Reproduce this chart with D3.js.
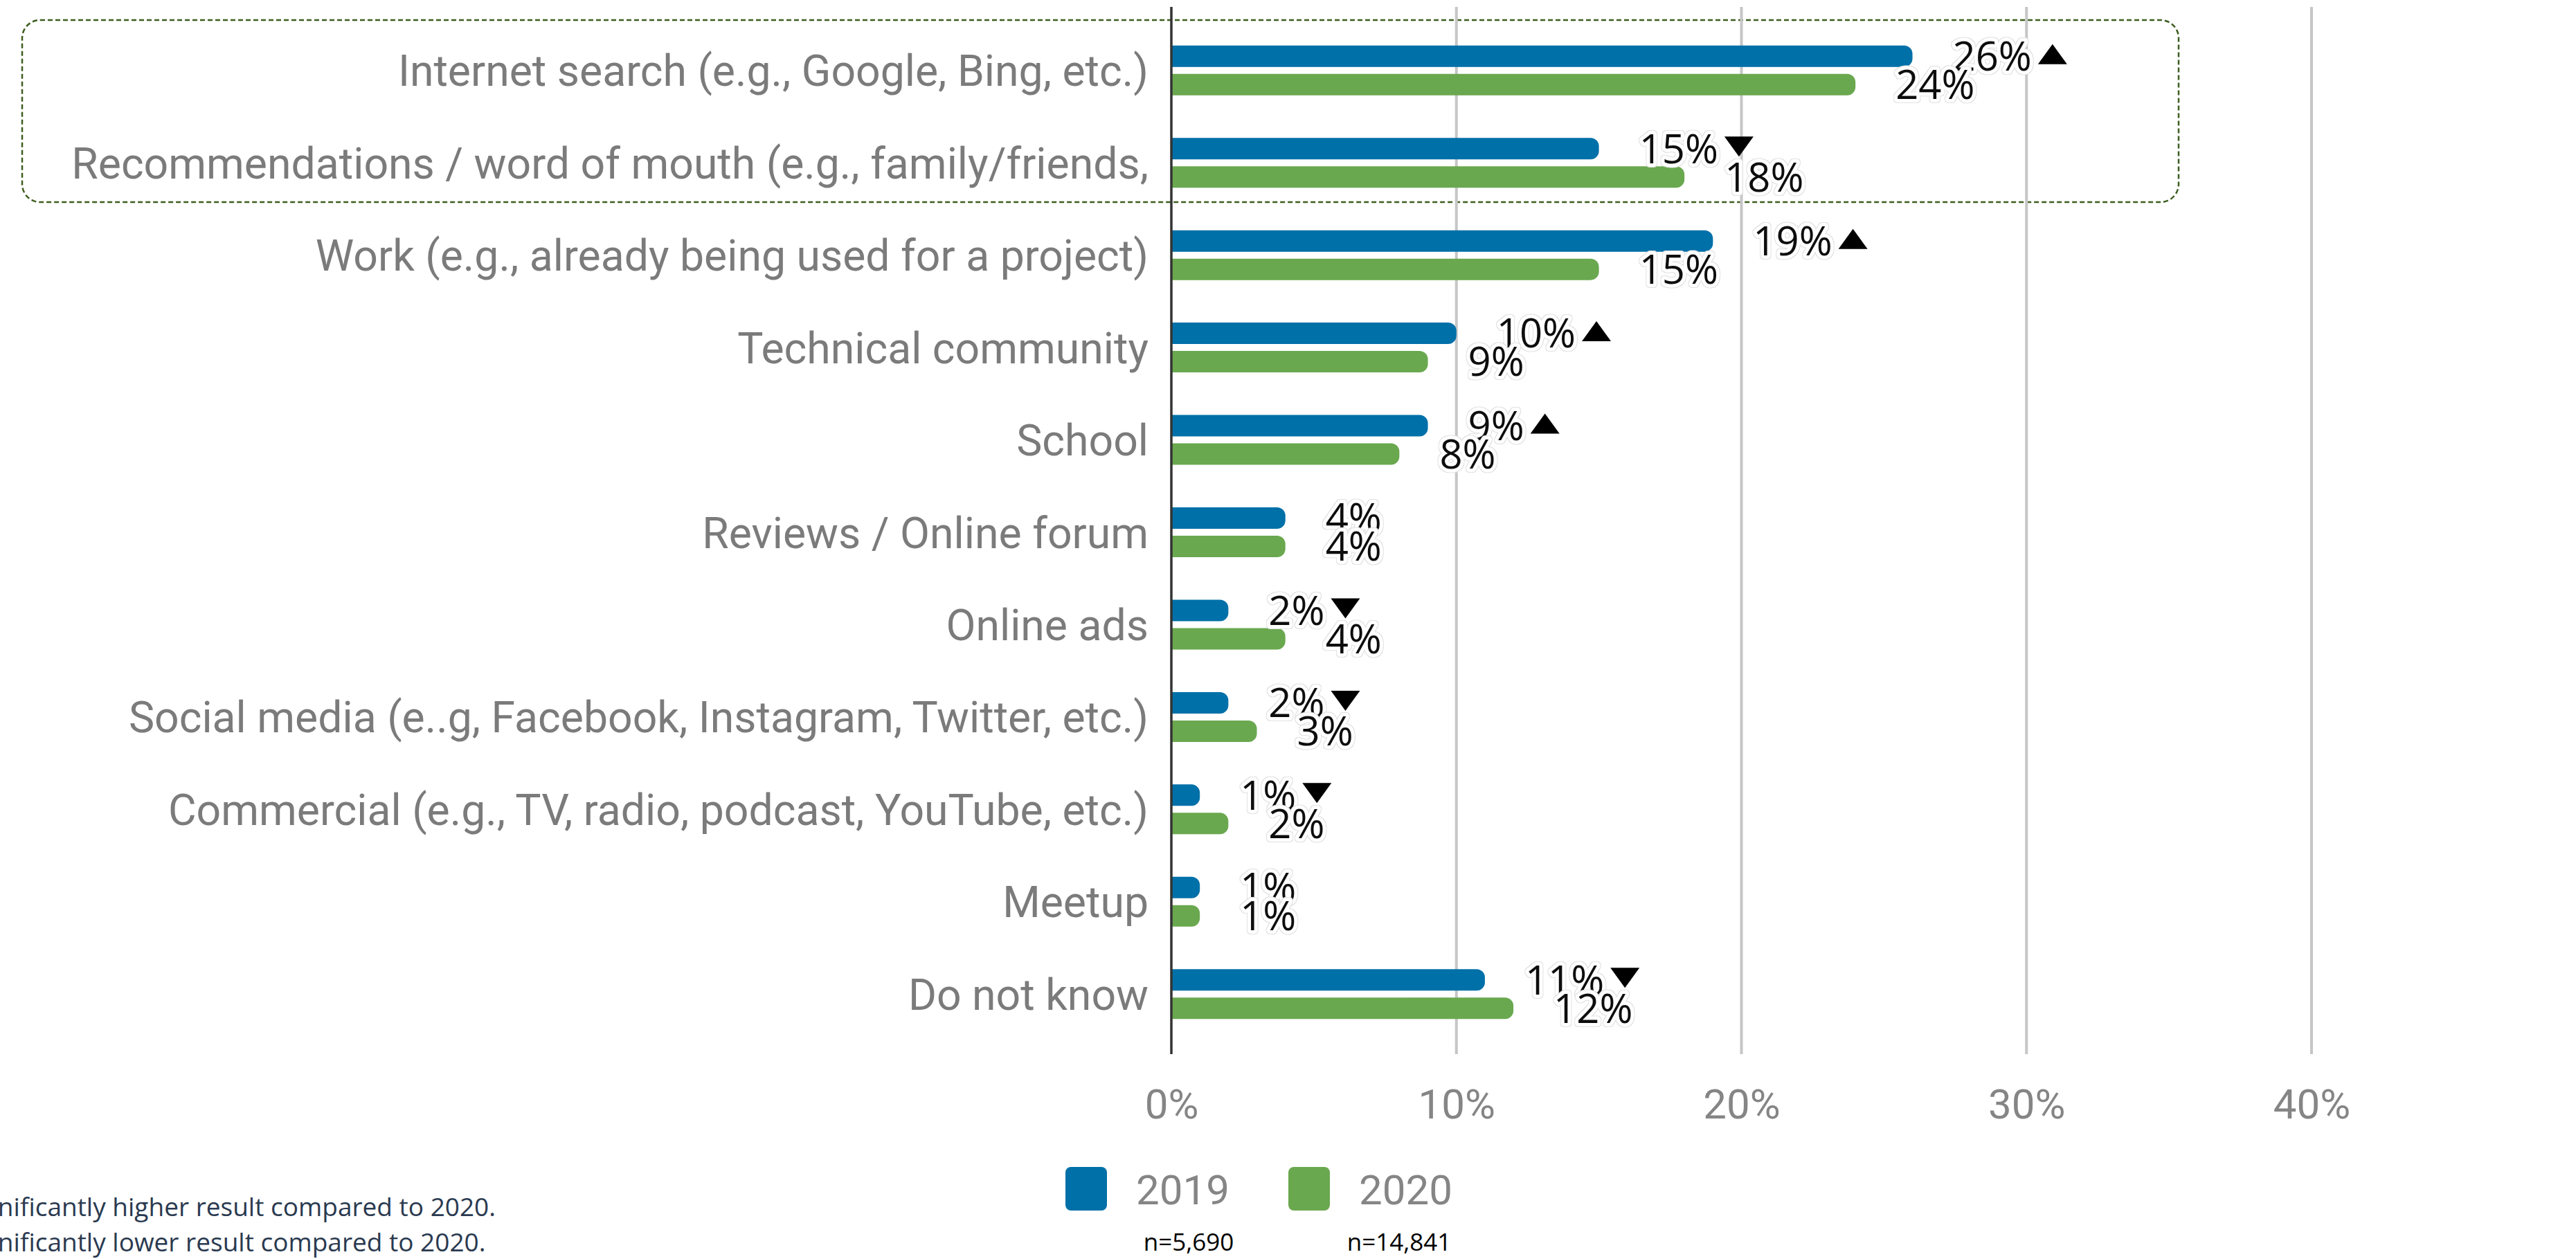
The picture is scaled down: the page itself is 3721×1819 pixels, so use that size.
<!DOCTYPE html>
<html>
<head>
<meta charset="utf-8">
<script src="https://cdn.jsdelivr.net/npm/d3@7/dist/d3.min.js"></script>
<style>
  html, body { margin: 0; padding: 0; background: #ffffff; }
  svg { display: block; }
</style>
</head>
<body>
<svg id="chart"></svg>
<script>
// How respondents first heard about it: 2019 vs 2020 shares
const categories = [
  "Internet search (e.g., Google, Bing, etc.)",
  "Recommendations / word of mouth (e.g., family/friends,",
  "Work (e.g., already being used for a project)",
  "Technical community",
  "School",
  "Reviews / Online forum",
  "Online ads",
  "Social media (e..g, Facebook, Instagram, Twitter, etc.)",
  "Commercial (e.g., TV, radio, podcast, YouTube, etc.)",
  "Meetup",
  "Do not know"
];
const seriesNames = ["2019", "2020"];
const values2019 = [26, 15, 19, 10, 9, 4, 2, 2, 1, 1, 11];
const values2020 = [24, 18, 15, 9, 8, 4, 4, 3, 2, 1, 12];
// significance of the 2019 result versus 2020: "up", "down" or none
const change2019 = ["up", "down", "up", "up", "up", "", "down", "down", "down", "", "down"];
const sampleSizes = ["n=5,690", "n=14,841"];
const tickValues = [0, 10, 20, 30, 40];
const footnotes = [
  "\u25B2 Significantly higher result compared to 2020.",
  "\u25BC Significantly lower result compared to 2020."
];

const W = 3721, H = 1819;
const colors = { "2019": "#0070a8", "2020": "#6aa84f" };
const seriesValues = { "2019": values2019, "2020": values2020 };

const svg = d3.select("#chart").attr("width", W).attr("height", H);
svg.append("rect").attr("width", W).attr("height", H).attr("fill", "#ffffff");

// faint grey ring around the white halo of the value labels
const defs = svg.append("defs");
const ring = defs.append("filter").attr("id", "labelRing")
  .attr("x", "-20%").attr("y", "-40%").attr("width", "140%").attr("height", "180%");
ring.append("feMorphology").attr("in", "SourceAlpha").attr("operator", "dilate")
  .attr("radius", 1.2).attr("result", "grown");
ring.append("feFlood").attr("flood-color", "#e2e2e2").attr("result", "grey");
ring.append("feComposite").attr("in", "grey").attr("in2", "grown").attr("operator", "in").attr("result", "edge");
const merge = ring.append("feMerge");
merge.append("feMergeNode").attr("in", "edge");
merge.append("feMergeNode").attr("in", "SourceGraphic");

const x = d3.scaleLinear().domain([0, 40]).range([1692, 3339]);
const y = d3.scaleBand().domain(categories).range([35, 1503]);
const bw = y.bandwidth();
const yInner = d3.scaleBand().domain(seriesNames)
  .range([bw / 2 - 36, bw / 2 + 36]).paddingInner(0.244);

const plotTop = 10, plotBottom = 1523;

// highlight frame around the two top rows
svg.append("rect")
  .attr("x", 32).attr("y", 29)
  .attr("width", 3147 - 32).attr("height", 292 - 29)
  .attr("rx", 26).attr("ry", 26)
  .attr("fill", "none")
  .attr("stroke", "#3e5e20")
  .attr("stroke-width", 2.5)
  .attr("stroke-dasharray", "7,4");

// vertical gridlines
svg.append("g").selectAll("line")
  .data(tickValues.filter(d => d !== 0))
  .join("line")
  .attr("x1", d => x(d)).attr("x2", d => x(d))
  .attr("y1", plotTop).attr("y2", plotBottom)
  .attr("stroke", "#c6c6c6").attr("stroke-width", 4);

// bars with rounded right ends
function barPath(x0, y0, w, h, r) {
  r = Math.min(r, w, h / 2);
  return `M${x0},${y0}H${x0 + w - r}A${r},${r} 0 0 1 ${x0 + w},${y0 + r}` +
         `V${y0 + h - r}A${r},${r} 0 0 1 ${x0 + w - r},${y0 + h}H${x0}Z`;
}

const rows = categories.map((c, i) => ({
  category: c,
  index: i,
  items: seriesNames.map(s => ({ series: s, value: seriesValues[s][i] })),
  change: change2019[i]
}));

const rowG = svg.append("g").selectAll("g.row")
  .data(rows)
  .join("g")
  .attr("class", "row")
  .attr("transform", d => `translate(0,${y(d.category)})`);

rowG.selectAll("path.bar")
  .data(d => d.items)
  .join("path")
  .attr("class", "bar")
  .attr("fill", d => colors[d.series])
  .attr("d", d => barPath(x(0), yInner(d.series), x(d.value) - x(0), yInner.bandwidth(), 12));

// zero axis line
svg.append("line")
  .attr("x1", x(0)).attr("x2", x(0))
  .attr("y1", plotTop).attr("y2", plotBottom)
  .attr("stroke", "#333333").attr("stroke-width", 3.5);

// category labels
const yAxis = svg.append("g")
  .attr("transform", `translate(${x(0)},0)`)
  .call(d3.axisLeft(y).tickSize(0).tickPadding(33));
yAxis.select(".domain").remove();
yAxis.selectAll("text")
  .attr("dy", "0.36em")
  .attr("fill", "#7b7b7b")
  .style("font-family", "Roboto, sans-serif")
  .style("font-size", "62.5px");

// x axis tick labels
const xAxis = svg.append("g")
  .attr("transform", `translate(0,1594)`)
  .call(d3.axisBottom(x).tickValues(tickValues).tickFormat(d => d + "%").tickSize(0).tickPadding(0));
xAxis.select(".domain").remove();
xAxis.selectAll("text")
  .attr("y", 0)
  .attr("dy", "0.36em")
  .attr("fill", "#858585")
  .style("font-family", "Roboto, sans-serif")
  .style("font-size", "60px");

// value labels with white halo, plus significance markers
const fmt = d => d3.format(".0f")(d) + "%";
const labelFont = "'Open Sans', sans-serif";
const labelSize = 58;
const labelLayer = svg.append("g");

rows.forEach(row => {
  const g = labelLayer.append("g").attr("transform", `translate(0,${y(row.category)})`);
  let firstLabel = null;
  row.items.forEach(item => {
    const lx = x(item.value) + 58;
    const ly = yInner(item.series) + yInner.bandwidth() / 2;
    const t = g.append("text")
      .attr("x", lx).attr("y", ly).attr("dy", "0.36em")
      .style("font-family", labelFont).style("font-size", labelSize + "px")
      .attr("fill", "#111111")
      .attr("stroke", "#ffffff").attr("stroke-width", 10)
      .attr("stroke-linejoin", "round")
      .attr("paint-order", "stroke")
      .attr("filter", "url(#labelRing)")
      .text(fmt(item.value));
    if (item.series === "2019") firstLabel = { node: t.node(), x: lx, y: ly };
  });
  if (row.change && firstLabel) {
    const tx = firstLabel.x + firstLabel.node.getComputedTextLength() + 9;
    const cy = firstLabel.y - 3;
    const tw = 42, th = 29;
    const pts = row.change === "up"
      ? [[tx, cy + th / 2], [tx + tw / 2, cy - th / 2], [tx + tw, cy + th / 2]]
      : [[tx, cy - th / 2], [tx + tw, cy - th / 2], [tx + tw / 2, cy + th / 2]];
    g.append("path")
      .attr("d", d3.line()(pts) + "Z")
      .attr("fill", "#000000");
  }
});

// legend
const legendPos = { "2019": 1539, "2020": 1861 };
const legend = svg.append("g").selectAll("g")
  .data(seriesNames)
  .join("g")
  .attr("transform", d => `translate(${legendPos[d]},1686)`);
legend.append("rect")
  .attr("width", 60).attr("height", 63).attr("rx", 8)
  .attr("fill", d => colors[d]);
legend.append("text")
  .attr("x", 102).attr("y", 54)
  .attr("fill", "#858585")
  .style("font-family", "Roboto, sans-serif")
  .style("font-size", "60px")
  .text(d => d);

// sample sizes
const nPos = [1717, 2021];
svg.append("g").selectAll("text")
  .data(sampleSizes)
  .join("text")
  .attr("x", (d, i) => nPos[i]).attr("y", 1807)
  .attr("text-anchor", "middle")
  .attr("fill", "#000000")
  .style("font-family", "'Open Sans', sans-serif")
  .style("font-size", "35px")
  .text(d => d);

// footnotes
const foot = svg.append("g").selectAll("text")
  .data(footnotes)
  .join("text")
  .attr("y", (d, i) => 1757 + i * 51)
  .attr("fill", "#2a3a50")
  .style("font-family", "'Open Sans', sans-serif")
  .style("font-size", "37px")
  .text(d => d);
const firstLen = foot.nodes()[0].getComputedTextLength();
foot.attr("x", 716 - firstLen);
</script>
</body>
</html>
